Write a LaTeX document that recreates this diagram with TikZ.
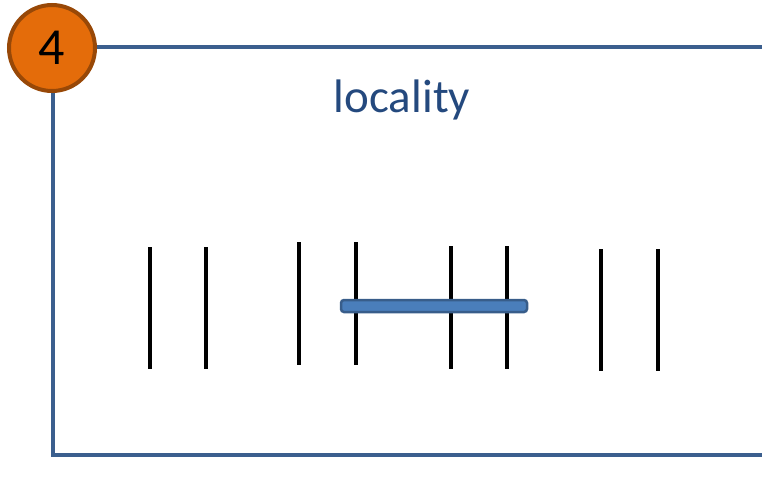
\documentclass[tikz,border=0pt]{standalone}
\usepackage{fontspec}
\setmainfont{Carlito}
\usetikzlibrary{positioning}

\definecolor{framblue}{HTML}{3B5F8E}
\definecolor{titleblue}{HTML}{24497E}
\definecolor{barfill}{HTML}{4A7EBB}
\definecolor{barline}{HTML}{385D8A}
\definecolor{badgefill}{HTML}{E46C0A}
\definecolor{badgeline}{HTML}{984807}

\tikzset{
  frame/.style = {draw=framblue, line width=4pt},
  tick/.style = {draw=black, line width=3.6pt},
  badge/.style = {circle, fill=badgefill, draw=badgeline, line width=4pt,
                  minimum size=86pt, inner sep=0pt, font=\fontsize{52}{56}\selectfont},
}

\begin{document}
\begin{tikzpicture}[x=1pt, y=-1pt]
  \useasboundingbox (0,0) rectangle (762,484);

  % open frame, runs off to the right
  \draw [frame] (762,47) -- (53,47) -- (53,455) -- (762,455);

  \node (title) at (402,100) [text=titleblue, font=\fontsize{47}{56}\selectfont] {locality};

  % pairs of ticks
  \foreach \x/\top/\bot in {150/247/369, 206/247/369, 299/242/365, 356/242/365,
                            451/246/369, 507/246/369, 601/249/371, 658/249/371}
    \draw [tick] (\x,\top) -- (\x,\bot);

  % the bar across the middle pairs
  \draw [draw=barline, fill=barfill, line width=2.5pt, rounded corners=3pt]
        (341,300) rectangle (527,312);

  \node (num) at (52,48) [badge] {4};
\end{tikzpicture}
\end{document}
